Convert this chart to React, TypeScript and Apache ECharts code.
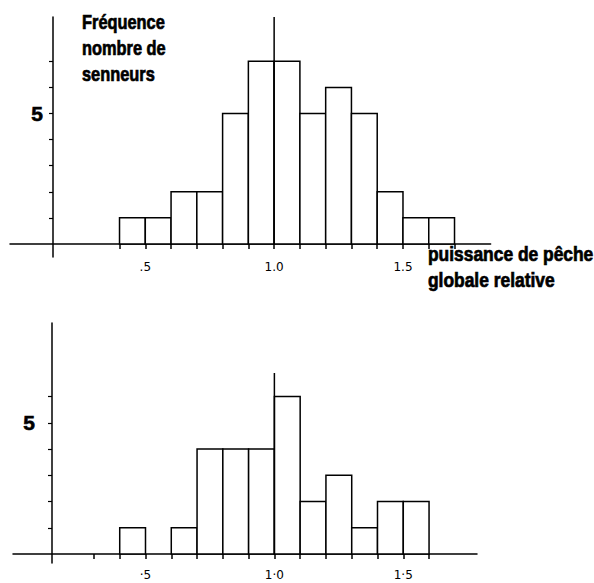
import { useEffect, useRef } from "react";
import * as echarts from "echarts";

// ---- data ----
const binWidth = 0.1;
const topBinStarts = [0.4, 0.5, 0.6, 0.7, 0.8, 0.9, 1.0, 1.1, 1.2, 1.3, 1.4, 1.5, 1.6];
const topCounts = [1, 1, 2, 2, 5, 7, 7, 5, 6, 5, 2, 1, 1];
const bottomBinStarts = [0.4, 0.5, 0.6, 0.7, 0.8, 0.9, 1.0, 1.1, 1.2, 1.3, 1.4, 1.5];
const bottomCounts = [1, 0, 1, 4, 4, 4, 6, 2, 3, 1, 2, 2];

const topXTicks = [0.4, 0.5, 0.6, 0.7, 0.8, 0.9, 1.0, 1.1, 1.2, 1.3, 1.4, 1.5, 1.6, 1.7];
const bottomXTicks = [0.3, 0.4, 0.5, 0.6, 0.7, 0.8, 0.9, 1.0, 1.1, 1.2, 1.3, 1.4, 1.5, 1.6];
const xLabelValues = [0.5, 1.0, 1.5];
const topXLabels = [".5", "1.0", "1.5"];
const bottomXLabels = ["·5", "1·0", "1·5"];

const topYTicks = [1, 2, 3, 4, 5, 6, 7];
const bottomYTicks = [1, 2, 3, 4, 5, 6];
const yLabelValues = [5];

const refLineX = 1.0;
const topRefLineHeight = 8.7;
const bottomRefLineHeight = 6.9;

const titleText = "Fréquence\nnombre de\nsenneurs";
const xAxisName = "puissance de pêche\nglobale relative";

const BOLD_FONT = "'Liberation Sans', Arial, sans-serif";

// layout
const TOP_GRID = { left: 10, right: 103.4, top: 17, height: 240 };
const BOT_GRID = { left: 13, right: 117, top: 323, height: 240 };
const TOP_Y = { min: -0.5, max: 8.7 };
const BOT_Y = { min: -0.34, max: 8.8 };

function bins(starts: number[], counts: number[]) {
  return starts.map((s, i) => [s, +(s + binWidth).toFixed(2), counts[i]]);
}

function labelFor(labels: string[]) {
  return (v: number) => {
    const i = xLabelValues.findIndex((x) => Math.abs(x - v) < 1e-6);
    return i >= 0 ? labels[i] : "";
  };
}

function zeroOffset(y: { min: number; max: number }, h: number) {
  return -((0 - y.min) / (y.max - y.min)) * h;
}

const renderBin = (params: any, api: any) => {
  const x0 = api.value(0);
  const x1 = api.value(1);
  const c = api.value(2);
  if (!c) return null;
  const p0 = api.coord([x0, c]);
  const p1 = api.coord([x1, 0]);
  return {
    type: "rect",
    shape: { x: p0[0], y: p0[1], width: p1[0] - p0[0], height: p1[1] - p0[1] },
    style: { fill: "#fff", stroke: "#000", lineWidth: 1.5 },
  };
};

export default function App() {
  const ref = useRef<HTMLDivElement>(null);
  useEffect(() => {
    if (!ref.current) return;
    const chart = echarts.init(ref.current, null, { renderer: "svg" });
    const axisLine = { show: true, onZero: false, lineStyle: { color: "#000", width: 1.5 } };
    const xLabelStyle = {
      color: "#000",
      fontSize: 12,
      fontFamily: "'DejaVu Sans', sans-serif",
    };
    const yLabelStyle = {
      color: "#000",
      fontSize: 21,
      fontWeight: "bold",
      fontFamily: BOLD_FONT,
      textBorderColor: "#000",
      textBorderWidth: 0.6,
    };
    const option: any = {
      animation: false,
      backgroundColor: "#fff",
      grid: [
        { ...TOP_GRID, outerBoundsMode: "none", containLabel: false },
        { ...BOT_GRID, outerBoundsMode: "none", containLabel: false },
      ],
      xAxis: [
        {
          gridIndex: 0,
          type: "value",
          min: -0.025,
          max: 1.84,
          offset: zeroOffset(TOP_Y, TOP_GRID.height),
          splitLine: { show: false },
          axisLine,
          axisTick: { show: true, customValues: topXTicks, length: 5, lineStyle: { color: "#000", width: 1.5 } },
          axisLabel: {
            customValues: xLabelValues,
            formatter: labelFor(topXLabels),
            margin: 17,
            ...xLabelStyle,
          },
        },
        {
          gridIndex: 1,
          type: "value",
          min: -0.014,
          max: 1.786,
          offset: zeroOffset(BOT_Y, BOT_GRID.height),
          splitLine: { show: false },
          axisLine,
          axisTick: { show: true, customValues: bottomXTicks, length: 5, lineStyle: { color: "#000", width: 1.5 } },
          axisLabel: {
            customValues: xLabelValues,
            formatter: labelFor(bottomXLabels),
            margin: 15,
            ...xLabelStyle,
          },
        },
      ],
      yAxis: [
        {
          gridIndex: 0,
          type: "value",
          ...TOP_Y,
          offset: -43,
          splitLine: { show: false },
          axisLine,
          axisTick: { show: true, customValues: topYTicks, length: 4, lineStyle: { color: "#000", width: 1.2 } },
          axisLabel: { customValues: yLabelValues, margin: 10, ...yLabelStyle },
        },
        {
          gridIndex: 1,
          type: "value",
          ...BOT_Y,
          offset: -39,
          splitLine: { show: false },
          axisLine,
          axisTick: { show: true, customValues: bottomYTicks, length: 4, lineStyle: { color: "#000", width: 1.2 } },
          axisLabel: { customValues: yLabelValues, margin: 17, ...yLabelStyle },
        },
      ],
      series: [
        {
          type: "custom",
          xAxisIndex: 0,
          yAxisIndex: 0,
          data: bins(topBinStarts, topCounts),
          encode: { x: [0, 1], y: 2 },
          renderItem: renderBin,
          clip: false,
        },
        {
          type: "custom",
          xAxisIndex: 1,
          yAxisIndex: 1,
          data: bins(bottomBinStarts, bottomCounts),
          encode: { x: [0, 1], y: 2 },
          renderItem: renderBin,
          clip: false,
        },
        {
          type: "line",
          xAxisIndex: 0,
          yAxisIndex: 0,
          data: [
            [refLineX, 0],
            [refLineX, topRefLineHeight],
          ],
          symbol: "none",
          lineStyle: { color: "#000", width: 1.5 },
          z: 5,
        },
        {
          type: "line",
          xAxisIndex: 1,
          yAxisIndex: 1,
          data: [
            [refLineX, 0],
            [refLineX, bottomRefLineHeight],
          ],
          symbol: "none",
          lineStyle: { color: "#000", width: 1.5 },
          z: 5,
        },
      ],
      graphic: [
        {
          type: "text",
          x: 82,
          y: 9,
          scaleX: 0.82,
          style: {
            text: titleText,
            fill: "#000",
            stroke: "#000",
            lineWidth: 0.7,
            font: `bold 20px ${BOLD_FONT}`,
            lineHeight: 26,
            verticalAlign: "top",
            align: "left",
          },
        },
        {
          type: "text",
          x: 428,
          y: 241,
          scaleX: 0.87,
          style: {
            text: xAxisName,
            fill: "#000",
            stroke: "#000",
            lineWidth: 0.7,
            font: `bold 20px ${BOLD_FONT}`,
            lineHeight: 26,
            verticalAlign: "top",
            align: "left",
          },
        },
      ],
    };
    chart.setOption(option);
    return () => chart.dispose();
  }, []);
  return (
    <div
      ref={ref}
      style={{ position: "fixed", left: 0, top: 0, width: 594, height: 583, background: "#fff" }}
    />
  );
}
